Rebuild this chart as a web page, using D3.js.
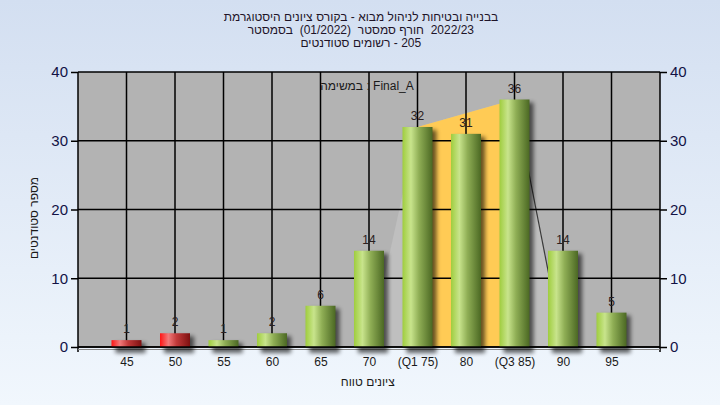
<!DOCTYPE html>
<html><head><meta charset="utf-8">
<script src="https://cdn.jsdelivr.net/npm/d3@7"></script>
<style>
html,body{margin:0;padding:0;}
svg{display:block;}
text{font-family:"Liberation Sans","DejaVu Sans",Arial,sans-serif;}
</style></head>
<body>
<svg id="chart" width="720" height="405"></svg>
<script>
// ---- data ----
const categories = ["45","50","55","60","65","70","(Q1 75)","80","(Q3 85)","90","95"];
const counts     = [1, 2, 1, 2, 6, 14, 32, 31, 36, 14, 5];
const failing    = [true, true, false, false, false, false, false, false, false, false, false];
const yTicks     = [0, 10, 20, 30, 40];
const rangeCats  = ["70", "(Q1 75)", "(Q3 85)", "90"];   // light grey spread shape
const rangeVals  = [0, 32, 36, 0];
const iqrCats    = ["(Q1 75)", "(Q1 75)", "(Q3 85)", "(Q3 85)"]; // orange inter-quartile band
const iqrVals    = [0, 32, 36, 0];
const titleLines = ["היסטוגרמת ציונים בקורס - מבוא לניהול ובטיחות בבנייה",
                    "בסמסטר  (01/2022)  סמסטר חורף  2022/23",
                    "סטודנטים רשומים - 205"];
const legendText = "במשימה : Final_A";
const xTitle = "טווח ציונים";
const yTitle = "מספר סטודנטים";

const svg = d3.select("#chart");
const W = 720, H = 405;
const L = 78, R = 660, T = 72, B = 347;

// words laid out left-to-right as in the reference, each word placed explicitly
function drawWords(str, cx, y, size, fill) {
  const words = str.split(' ');
  const t = svg.append("text").attr("y", y).attr("font-size", size).attr("fill", fill)
    .attr("direction", "ltr").style("unicode-bidi", "isolate");
  const space = size * 0.28;
  const widths = words.map(w => {
    if (w === '') return 0;
    const tmp = svg.append("text").attr("font-size", size).text(w);
    const wd = tmp.node().getBBox().width;
    tmp.remove();
    return wd;
  });
  let total = 0;
  words.forEach((w, i) => { total += widths[i] + (i ? space : 0); });
  let pos = cx - total / 2;
  words.forEach((w, i) => {
    if (i) pos += space;
    if (w !== '') t.append("tspan").attr("x", pos).attr("y", y).text(w);
    pos += widths[i];
  });
  return t;
}

const defs = svg.append("defs");
const bg = defs.append("linearGradient").attr("id","bg").attr("x1",0).attr("y1",0).attr("x2",0).attr("y2",1);
bg.append("stop").attr("offset","0%").attr("stop-color","#d3dff1");
bg.append("stop").attr("offset","100%").attr("stop-color","#f1f7fd");

function barGrad(id, c0, c1, c2, c3) {
  const g = defs.append("linearGradient").attr("id", id).attr("x1",0).attr("y1",0).attr("x2",1).attr("y2",0);
  g.append("stop").attr("offset","0%").attr("stop-color",c0);
  g.append("stop").attr("offset","28%").attr("stop-color",c1);
  g.append("stop").attr("offset","55%").attr("stop-color",c2);
  g.append("stop").attr("offset","100%").attr("stop-color",c3);
}
barGrad("gGreen", "#9fcd3e", "#c8e48c", "#8fae55", "#4b6823");
barGrad("gRed", "#ff1515", "#f27a7a", "#c23a3a", "#7d1010");

const f = defs.append("filter").attr("id","shadow").attr("x","-50%").attr("y","-50%").attr("width","200%").attr("height","200%");
f.append("feGaussianBlur").attr("stdDeviation", 2.2);

svg.insert("rect", ":first-child").attr("width", W).attr("height", H).attr("fill", "url(#bg)");

const x = d3.scalePoint().domain(categories).range([L, R]).padding(1);
const y = d3.scaleLinear().domain([0, 40]).range([B, T]);
const barW = 30;

// plot background
svg.append("rect").attr("x", L).attr("y", T).attr("width", R - L).attr("height", B - T).attr("fill", "#b3b3b3");

// grey spread shape and orange inter-quartile band
const line = d3.line().x(d => x(d[0])).y(d => y(d[1]));
const rangePts = rangeCats.map((c, i) => [c, rangeVals[i]]);
svg.append("path").attr("d", line(rangePts) + "Z").attr("fill", "#bfbfbf");
const iqrPts = iqrCats.map((c, i) => [c, iqrVals[i]]);
svg.append("path").attr("d", line(iqrPts) + "Z").attr("fill", "#ffcb55");
svg.append("path").attr("d", line(rangePts.slice(2))).attr("fill", "none").attr("stroke", "#3a3a3a").attr("stroke-width", 1.2);

// grid
const grid = svg.append("g");
yTicks.forEach(t => {
  grid.append("line").attr("x1", L).attr("x2", R).attr("y1", y(t)).attr("y2", y(t))
    .attr("stroke", "#000").attr("stroke-width", 1.5);
});
categories.forEach(c => {
  grid.append("line").attr("x1", x(c)).attr("x2", x(c)).attr("y1", T).attr("y2", B)
    .attr("stroke", "#000").attr("stroke-width", 1.5);
});
grid.append("line").attr("x1", L).attr("x2", L).attr("y1", T).attr("y2", B + 5).attr("stroke", "#000").attr("stroke-width", 1.5);
grid.append("line").attr("x1", R).attr("x2", R).attr("y1", T).attr("y2", B + 5).attr("stroke", "#000").attr("stroke-width", 1.5);
svg.append("line").attr("x1", L).attr("x2", R).attr("y1", B + 2.5).attr("y2", B + 2.5).attr("stroke", "#8a8a8a").attr("stroke-width", 1);

// bars with soft shadows
const data = categories.map((c, i) => ({c, v: counts[i], fail: failing[i]}));
const bars = svg.append("g");
bars.selectAll("rect.sh").data(data).join("rect").attr("class","sh")
  .attr("x", d => x(d.c) - barW / 2 + 4).attr("y", d => y(d.v) + 3)
  .attr("width", barW).attr("height", d => B - y(d.v) + 3)
  .attr("fill", "#000").attr("opacity", 0.6).attr("filter", "url(#shadow)");
bars.selectAll("rect.b").data(data).join("rect").attr("class","b")
  .attr("x", d => x(d.c) - barW / 2).attr("y", d => y(d.v))
  .attr("width", barW).attr("height", d => B - y(d.v))
  .attr("fill", d => d.fail ? "url(#gRed)" : "url(#gGreen)");
svg.append("line").attr("x1", L).attr("x2", R).attr("y1", B).attr("y2", B).attr("stroke", "#000").attr("stroke-width", 1.5);

// value labels
bars.selectAll("text").data(data).join("text")
  .attr("x", d => x(d.c)).attr("y", d => y(d.v) - 7)
  .attr("text-anchor", "middle").attr("font-size", 12).attr("fill", "#2a2020")
  .text(d => d.v);

// y axes
const yAxL = d3.axisLeft(y).tickValues(yTicks).tickSize(7).tickPadding(3);
const yAxR = d3.axisRight(y).tickValues(yTicks).tickSize(7).tickPadding(3);
function styleAxis(g) {
  g.select(".domain").remove();
  g.selectAll("line").attr("stroke", "#000").attr("stroke-width", 1.5);
  g.selectAll("text").attr("font-size", 15).attr("fill", "#121245")
    .attr("font-family", "Liberation Sans, DejaVu Sans, Arial, sans-serif");
}
svg.append("g").attr("transform", `translate(${L},0)`).call(yAxL).call(styleAxis);
svg.append("g").attr("transform", `translate(${R},0)`).call(yAxR).call(styleAxis);

// x labels
const xAx = d3.axisBottom(x).tickSize(0).tickPadding(10);
svg.append("g").attr("transform", `translate(0,${B})`).call(xAx).call(g => {
  g.select(".domain").remove();
  g.selectAll("text").attr("font-size", 12).attr("fill", "#1a1a1a")
    .attr("font-family", "Liberation Sans, DejaVu Sans, Arial, sans-serif");
});

// titles
titleLines.forEach((t, i) => drawWords(t, 361, 21 + i * 12.8, 12, "#1e1428"));
drawWords(legendText, 367, 90, 12, "#1a1a1a");
drawWords(xTitle, 368, 386, 12, "#1a1a1a");
svg.append("text").attr("transform", "translate(38,218) rotate(-90)").attr("text-anchor", "middle")
  .attr("font-size", 12).attr("fill", "#1a1a1a").text(yTitle);
</script>
</body></html>
